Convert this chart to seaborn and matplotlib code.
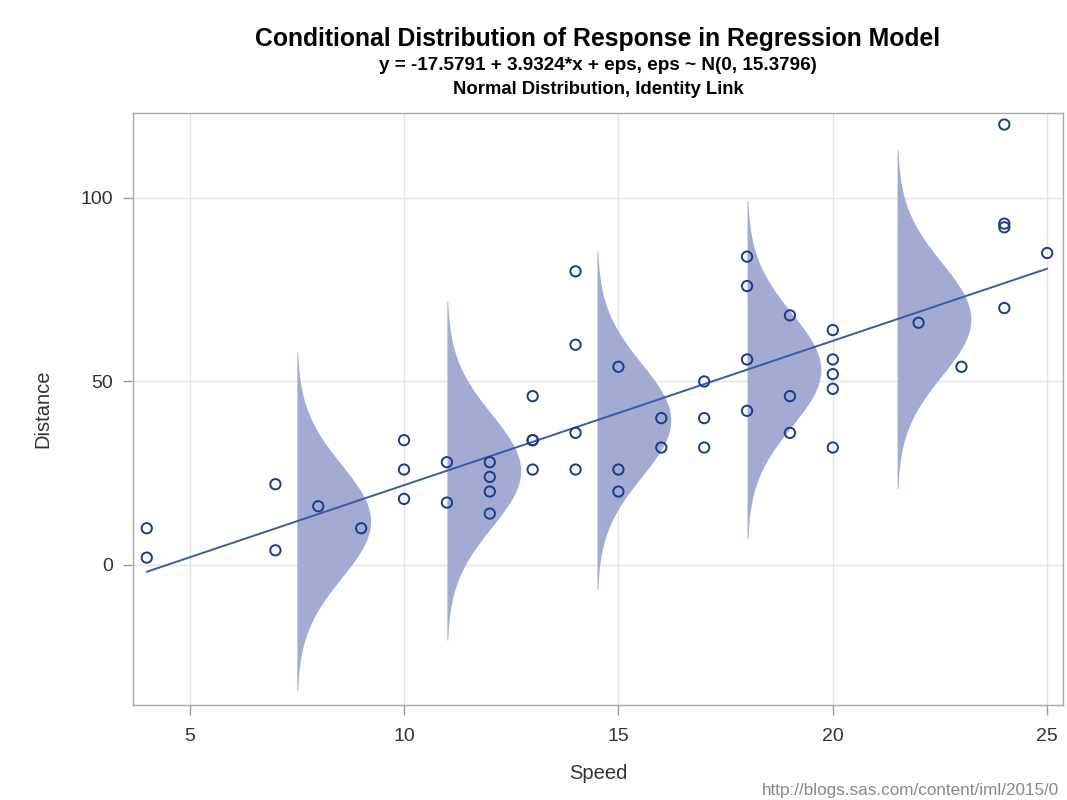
import numpy as np
import pandas as pd
import matplotlib
matplotlib.use("Agg")
import matplotlib.pyplot as plt
import seaborn as sns

speed = [4, 4, 7, 7, 8, 9, 10, 10, 10, 11, 11, 12, 12, 12, 12, 13, 13, 13, 13,
         14, 14, 14, 14, 15, 15, 15, 16, 16, 17, 17, 17, 18, 18, 18, 18, 19, 19,
         19, 20, 20, 20, 20, 20, 22, 23, 24, 24, 24, 24, 25]
dist = [2, 10, 4, 22, 16, 10, 18, 26, 34, 17, 28, 14, 20, 24, 28, 26, 34, 34, 46,
        26, 36, 60, 80, 20, 26, 54, 32, 40, 32, 40, 50, 42, 56, 76, 84, 36, 46,
        68, 32, 48, 52, 56, 64, 66, 54, 70, 92, 93, 120, 85]
intercept = -17.5791
slope = 3.9324
sigma = 15.3796
curve_x = [7.5, 11.0, 14.5, 18.0, 21.5]
x_ticks = [5, 10, 15, 20, 25]
y_ticks = [0, 50, 100]

sns.set_theme(style="white")
plt.rcParams['font.family'] = ['Liberation Sans', 'DejaVu Sans']

fig = plt.figure(figsize=(10.67, 8), dpi=100)
ax = fig.add_axes([0.1247, 0.119, 0.8716, 0.740])

grid_c = "#e4e4e4"
for t in x_ticks:
    ax.axvline(t, color=grid_c, lw=1, zorder=0)
for t in y_ticks:
    ax.axhline(t, color=grid_c, lw=1, zorder=0)

# conditional normal densities
width = 1.72
pk = 1.0 / (sigma * np.sqrt(2 * np.pi))
for x0 in curve_x:
    mu = intercept + slope * x0
    yy = np.linspace(mu - 3 * sigma, mu + 3 * sigma, 300)
    dens = np.exp(-0.5 * ((yy - mu) / sigma) ** 2) / (sigma * np.sqrt(2 * np.pi))
    ax.fill_betweenx(yy, x0, x0 + dens / pk * width, color="#a3abd2", lw=0, zorder=1)

# regression line
line_df = pd.DataFrame({"x": [min(speed), max(speed)]})
line_df["y"] = intercept + slope * line_df["x"]
sns.lineplot(data=line_df, x="x", y="y", ax=ax, color="#3c5aa6", lw=1.4, zorder=2)

df = pd.DataFrame({"Speed": speed, "Distance": dist})
sns.scatterplot(data=df, x="Speed", y="Distance", ax=ax, marker="o", s=55,
                facecolor="none", edgecolor="#1d3a8a", linewidth=1.4, zorder=3)

ax.set_xlim(3.68, 25.37)
ax.set_ylim(-38.1, 123.2)
ax.set_xticks(x_ticks)
ax.set_yticks(y_ticks)
ax.tick_params(axis="both", which="both", direction="out", length=7.5, width=1,
               color="#9a9a9a", labelsize=14, labelcolor="#333333", pad=7,
               bottom=True, left=True)
ax.tick_params(axis="x", pad=9)
for s in ax.spines.values():
    s.set_color("#a8a8a8")
    s.set_linewidth(1)
ax.set_xlabel("Speed", fontsize=14.5, color="#333333", labelpad=14)
ax.set_ylabel("Distance", fontsize=14.5, color="#333333", labelpad=20)

cx = 0.1247 + 0.8716 / 2
fig.text(cx, 1 - 39 / 800, "Conditional Distribution of Response in Regression Model",
         ha="center", va="center", fontsize=17.8, fontweight="bold", color="black")
fig.text(cx, 1 - 65 / 800, "y = -17.5791 + 3.9324*x + eps, eps ~ N(0, 15.3796)",
         ha="center", va="center", fontsize=13.6, fontweight="bold", color="black")
fig.text(cx, 1 - 90 / 800, "Normal Distribution, Identity Link",
         ha="center", va="center", fontsize=13.3, fontweight="bold", color="black")
fig.text(762 / 1067, 1 - 795 / 800, "http://blogs.sas.com/content/iml/2015/0",
         ha="left", va="baseline", fontsize=12.3, color="#888888")

fig.savefig("out.png", dpi=100)
